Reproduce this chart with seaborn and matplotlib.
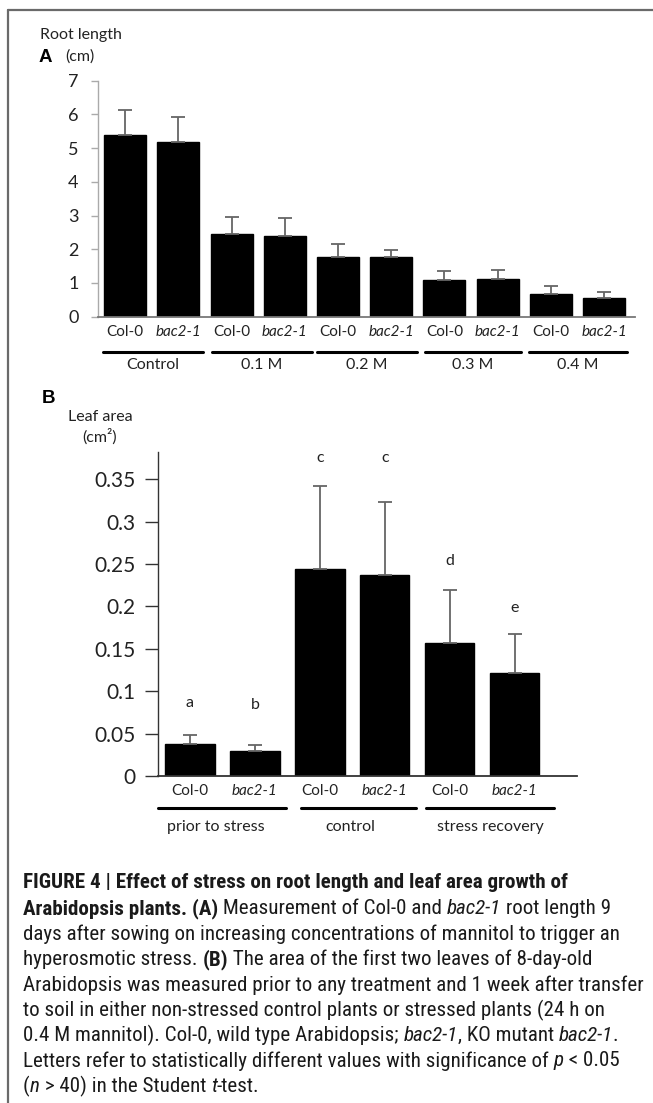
import matplotlib
matplotlib.use("Agg")
import matplotlib.pyplot as plt
from matplotlib import font_manager
import seaborn as sns
import pandas as pd
import numpy as np
from matplotlib.lines import Line2D

sns.set_theme(style="white")
plt.rcParams['font.family'] = ['Lato', 'DejaVu Sans']

# ---------------- data ----------------
a_genotypes = ["Col-0", "bac2-1"] * 5
a_groups = ["Control", "0.1 M", "0.2 M", "0.3 M", "0.4 M"]
a_means = [5.38, 5.17, 2.46, 2.38, 1.76, 1.76, 1.08, 1.12, 0.66, 0.55]
a_errs = [0.74, 0.76, 0.50, 0.55, 0.38, 0.21, 0.27, 0.26, 0.24, 0.18]
a_yticks = [0, 1, 2, 3, 4, 5, 6, 7]

b_genotypes = ["Col-0", "bac2-1"] * 3
b_groups = ["prior to stress", "control", "stress recovery"]
b_means = [0.0374, 0.0295, 0.244, 0.237, 0.157, 0.122]
b_errs = [0.0106, 0.0075, 0.098, 0.086, 0.0626, 0.0457]
b_letters = ["a", "b", "c", "c", "d", "e"]
b_letter_y = [0.086, 0.084, 0.375, 0.375, 0.254, 0.198]
b_yticks = [0, 0.05, 0.1, 0.15, 0.2, 0.25, 0.3, 0.35]
b_yticklabels = ["0", "0.05", "0.1", "0.15", "0.2", "0.25", "0.3", "0.35"]

W, H = 653, 1103
fig = plt.figure(figsize=(W / 100, H / 100), dpi=100)
fig.patch.set_facecolor("white")


def fx(px):
    return px / W


def fy(py):
    return 1 - py / H


def ax_rect(l, t, r, b):
    return [fx(l), fy(b), fx(r) - fx(l), fy(t) - fy(b)]


# frame
fig.add_artist(Line2D([fx(8), fx(653)], [fy(10), fy(10)], color="#6a6a6a", lw=1.6))
fig.add_artist(Line2D([fx(8), fx(8)], [fy(10), fy(1103)], color="#6a6a6a", lw=1.6))

TXT = "#222222"

# ---------------- panel A ----------------
axA = fig.add_axes(ax_rect(98, 80.7, 635, 316.6))
dfA = pd.DataFrame({"pos": [str(i) for i in range(len(a_means))], "val": a_means})
sns.barplot(data=dfA, x="pos", y="val", ax=axA, color="black", width=0.79,
            errorbar=None, saturation=1, edgecolor="black")
xs = np.arange(len(a_means))
axA.errorbar(xs, a_means, yerr=[np.zeros(len(a_errs)), a_errs], fmt="none",
             ecolor="#666666", elinewidth=1.3, capsize=5, capthick=1.3, zorder=1)
axA.set_xlim(-0.51, len(a_means) - 1 + 0.58)
axA.set_ylim(0, 7)
axA.set_yticks(a_yticks)
axA.set_yticklabels([str(v) for v in a_yticks], fontsize=13, color=TXT)
axA.set_xticks(xs)
axA.set_xticklabels(a_genotypes, fontsize=11, color=TXT)
for lab in axA.get_xticklabels():
    if lab.get_text().startswith("bac"):
        lab.set_style("italic")
axA.tick_params(axis="x", length=0, pad=6)
axA.tick_params(axis="y", length=5, width=1, color="#aaaaaa", direction="out", left=True, pad=9)
for s in ["top", "right"]:
    axA.spines[s].set_visible(False)
axA.spines["left"].set_color("#aaaaaa")
axA.spines["bottom"].set_color("#777777")
axA.spines["left"].set_linewidth(1.0)
axA.spines["bottom"].set_linewidth(1.3)
axA.set_xlabel("")
axA.set_ylabel("")

# group lines/labels A
a_line_px = [(103, 203), (212, 312), (317, 417), (425, 521), (529, 627)]
for (l, r), g in zip(a_line_px, a_groups):
    fig.add_artist(Line2D([fx(l), fx(r)], [fy(352), fy(352)], color="black", lw=2.2))
    fig.text(fx((l + r) / 2), fy(365), g, ha="center", va="center", fontsize=11.5, color=TXT)

fig.text(fx(40), fy(35), "Root length", ha="left", va="center", fontsize=11.5, color=TXT)
fig.text(fx(39), fy(57), "A", ha="left", va="center", fontsize=13.5, fontweight="bold",
         color="black", family=["Liberation Sans", "DejaVu Sans"])
fig.text(fx(65), fy(57), "(cm)", ha="left", va="center", fontsize=11.5, color=TXT)

# ---------------- panel B ----------------
axB = fig.add_axes(ax_rect(157.5, 452, 577, 776))
dfB = pd.DataFrame({"pos": [str(i) for i in range(len(b_means))], "val": b_means})
sns.barplot(data=dfB, x="pos", y="val", ax=axB, color="black", width=0.76,
            errorbar=None, saturation=1, edgecolor="black")
xb = np.arange(len(b_means))
axB.errorbar(xb, b_means, yerr=[np.zeros(len(b_errs)), b_errs], fmt="none",
             ecolor="#666666", elinewidth=1.3, capsize=5, capthick=1.3, zorder=1)
for x, y, t in zip(xb, b_letter_y, b_letters):
    axB.text(x, y, t, ha="center", va="center", fontsize=11.5, color=TXT)
axB.set_xlim(-0.5, len(b_means) - 1 + 0.96)
axB.set_ylim(0, 0.382)
axB.set_yticks(b_yticks)
axB.set_yticklabels(b_yticklabels, fontsize=15, color=TXT)
axB.set_xticks(xb)
axB.set_xticklabels(b_genotypes, fontsize=11, color=TXT)
for lab in axB.get_xticklabels():
    if lab.get_text().startswith("bac"):
        lab.set_style("italic")
axB.tick_params(axis="x", length=0, pad=6)
axB.tick_params(axis="y", length=9.5, width=1, color="#333333", direction="out", left=True, pad=6)
for s in ["top", "right"]:
    axB.spines[s].set_visible(False)
axB.spines["left"].set_color("#333333")
axB.spines["bottom"].set_color("#333333")
axB.spines["left"].set_linewidth(1.0)
axB.spines["bottom"].set_linewidth(1.3)
axB.set_xlabel("")
axB.set_ylabel("")

b_line_px = [(157.5, 286), (301, 416), (426, 554)]
b_lab_cx = [216, 350, 490]
for (l, r), cx, g in zip(b_line_px, b_lab_cx, b_groups):
    fig.add_artist(Line2D([fx(l), fx(r)], [fy(808), fy(808)], color="black", lw=2.2))
    fig.text(fx(cx), fy(827), g, ha="center", va="center", fontsize=11.5, color=TXT)

fig.text(fx(42), fy(398), "B", ha="left", va="center", fontsize=13.5, fontweight="bold",
         color="black", family=["Liberation Sans", "DejaVu Sans"])
fig.text(fx(100), fy(417), "Leaf area", ha="center", va="center", fontsize=11.5, color=TXT)
fig.text(fx(100), fy(437), "(cm²)", ha="center", va="center", fontsize=11.5, color=TXT)

# ---------------- caption ----------------
available = {f.name for f in font_manager.fontManager.ttflist}
cap_font = "DejaVu Sans"
for cand in ["Liberation Sans Narrow", "DejaVu Sans Condensed", "Roboto Condensed", "Roboto",
             "Liberation Sans"]:
    if cand in available:
        cap_font = cand
        break
cap_fam = [cap_font, "DejaVu Sans"]

cap_lines = [
    [("FIGURE 4 | Effect of stress on root length and leaf area growth of", "b")],
    [("Arabidopsis plants. (A)", "b"), (" Measurement of Col-0 and ", "n"), ("bac2-1", "i"),
     (" root length 9", "n")],
    [("days after sowing on increasing concentrations of mannitol to trigger an", "n")],
    [("hyperosmotic stress. ", "n"), ("(B)", "b"), (" The area of the first two leaves of 8-day-old", "n")],
    [("Arabidopsis was measured prior to any treatment and 1 week after transfer", "n")],
    [("to soil in either non-stressed control plants or stressed plants (24 h on", "n")],
    [("0.4 M mannitol). Col-0, wild type Arabidopsis; ", "n"), ("bac2-1", "i"), (", KO mutant ", "n"),
     ("bac2-1", "i"), (".", "n")],
    [("Letters refer to statistically different values with significance of ", "n"), ("p", "i"),
     (" < 0.05", "n")],
    [("(", "n"), ("n", "i"), (" > 40) in the Student ", "n"), ("t", "i"), ("-test.", "n")],
]
cap_y = [883, 908.5, 934, 959.5, 985, 1010, 1035.5, 1061, 1086]
renderer = fig.canvas.get_renderer()

# fit font size so the longest (5th) line spans ~622 px like the reference
probe = fig.text(0, 0, cap_lines[4][0][0], fontsize=12, family=cap_fam)
pw = probe.get_window_extent(renderer=renderer).width
probe.remove()
cap_size = min(16.0, 12 * 620.0 / pw)

for segs, yy in zip(cap_lines, cap_y):
    xpx = 23.0
    for txt, st in segs:
        kw = dict(fontsize=cap_size, color="#1a1a1a", family=cap_fam, ha="left", va="center")
        if st == "b":
            kw["fontweight"] = "bold"
        if st == "i":
            kw["style"] = "italic"
        t = fig.text(fx(xpx), fy(yy), txt, **kw)
        bb = t.get_window_extent(renderer=renderer)
        xpx += bb.width

fig.savefig("out.png", dpi=100, facecolor="white")
